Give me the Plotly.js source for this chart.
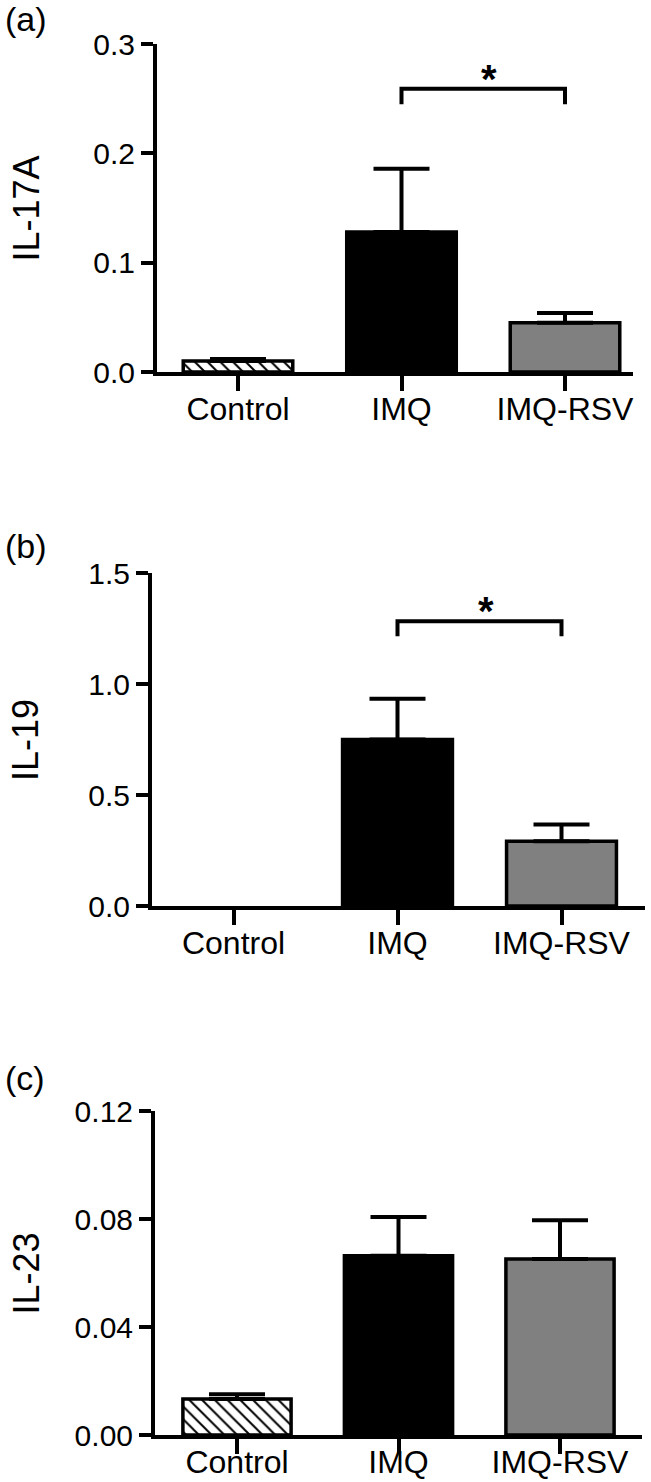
<!DOCTYPE html>
<html>
<head>
<meta charset="utf-8">
<script src="https://cdn.plot.ly/plotly-3.0.1.min.js"></script>
<style>
  html, body { margin: 0; padding: 0; background: #ffffff; }
  #chart { width: 651px; height: 1482px; }
</style>
</head>
<body>
<div id="chart"></div>
<script>
// ---------------- data ----------------
const categories = ['Control', 'IMQ', 'IMQ-RSV'];

const il17aMean = [0.010, 0.128, 0.045];
const il17aErr  = [0.002, 0.058, 0.009];

const il19Mean  = [null, 0.750, 0.292];
const il19Err   = [null, 0.183, 0.075];

const il23Mean  = [0.0133, 0.0664, 0.0652];
const il23Err   = [0.0018, 0.0143, 0.0143];

const il17aTickVals = [0, 0.1, 0.2, 0.3];
const il17aTickText = ['0.0', '0.1', '0.2', '0.3'];
const il19TickVals  = [0, 0.5, 1.0, 1.5];
const il19TickText  = ['0.0', '0.5', '1.0', '1.5'];
const il23TickVals  = [0, 0.04, 0.08, 0.12];
const il23TickText  = ['0.00', '0.04', '0.08', '0.12'];

const yTitles = ['IL-17A', 'IL-19', 'IL-23'];
const panelLetters = ['(a)', '(b)', '(c)'];

// significance brackets
const sigPanel  = [0, 1];
const sigFrom   = ['IMQ', 'IMQ'];
const sigTo     = ['IMQ-RSV', 'IMQ-RSV'];
const sigTop    = [0.259, 1.283];
const sigBottom = [0.245, 1.215];
const sigLabel  = ['*', '*'];

// ---------------- styles ----------------
const barFill    = ['#ffffff', '#000000', '#808080'];
const barPattern = ['\\', '', ''];

// ---------------- layout geometry (pixels) ----------------
const W = 651, H = 1482;
const geom = [
  {top: 44,   bottom: 372,  left: 157, right: 633, c0: 238,   unit: 163.5, yMax: 0.3,  letterY: 19,   labelX: 25.5, xStand: -9},
  {top: 573,  bottom: 906,  left: 152, right: 645, c0: 233.5, unit: 164,   yMax: 1.5,  letterY: 546,  labelX: 25.5, xStand: -9},
  {top: 1111, bottom: 1435, left: 155, right: 642, c0: 237,   unit: 161.5, yMax: 0.12, letterY: 1078, labelX: 25.5, xStand: -19}
];

const means = [il17aMean, il19Mean, il23Mean];
const errs  = [il17aErr, il19Err, il23Err];
const tickVals = [il17aTickVals, il19TickVals, il23TickVals];
const tickText = [il17aTickText, il19TickText, il23TickText];

const FONT = 'Liberation Sans, Arial, sans-serif';

const traces = [];
const layout = {
  width: W, height: H,
  margin: {l: 0, r: 0, t: 0, b: 0, pad: 0},
  paper_bgcolor: '#ffffff',
  plot_bgcolor: 'rgba(0,0,0,0)',
  showlegend: false,
  barmode: 'overlay',
  font: {family: FONT, color: '#000000'},
  annotations: []
};

geom.forEach((g, i) => {
  const xa = 'xaxis' + (i === 0 ? '' : (i + 1));
  const ya = 'yaxis' + (i === 0 ? '' : (i + 1));
  const xr = 'x' + (i === 0 ? '' : (i + 1));
  const yr = 'y' + (i === 0 ? '' : (i + 1));

  categories.forEach((cat, j) => {
    const marker = {
      color: barFill[j],
      line: {color: '#000000', width: 3.5}
    };
    if (barPattern[j]) {
      marker.pattern = {
        shape: barPattern[j],
        fgcolor: '#000000',
        bgcolor: '#ffffff',
        size: 9,
        solidity: 0.22
      };
    }
    traces.push({
      type: 'bar',
      x: [cat],
      y: [means[i][j]],
      xaxis: xr, yaxis: yr,
      width: 0.67,
      marker: marker,
      error_y: {
        type: 'data',
        symmetric: false,
        array: [errs[i][j]],
        arrayminus: [0],
        color: '#000000',
        thickness: 4,
        width: 28
      },
      hoverinfo: 'skip'
    });
  });

  layout[xa] = {
    domain: [g.left / W, g.right / W],
    anchor: yr,
    type: 'category',
    categoryorder: 'array',
    categoryarray: categories,
    range: [(g.left - g.c0) / g.unit, (g.right - g.c0) / g.unit],
    showline: true, linecolor: '#000000', linewidth: 4,
    ticks: 'outside', ticklen: 15, tickwidth: 4, tickcolor: '#000000',
    ticklabelstandoff: g.xStand,
    showgrid: false, zeroline: false,
    tickfont: {family: FONT, size: 32, color: '#000000'},
    fixedrange: true
  };
  layout[ya] = {
    domain: [1 - g.bottom / H, 1 - g.top / H],
    anchor: xr,
    range: [0, g.yMax],
    tickvals: tickVals[i],
    ticktext: tickText[i],
    showline: true, linecolor: '#000000', linewidth: 4,
    ticks: 'outside', ticklen: 12, tickwidth: 4, tickcolor: '#000000',
    showgrid: false, zeroline: false,
    tickfont: {family: FONT, size: 30, color: '#000000'},
    fixedrange: true
  };

  layout.annotations.push({
    xref: 'paper', yref: 'paper',
    x: g.labelX / W, y: 1 - ((g.top + g.bottom) / 2) / H,
    xanchor: 'center', yanchor: 'middle',
    text: yTitles[i], textangle: -90, showarrow: false,
    font: {family: FONT, size: 36, color: '#000000'}
  });
  layout.annotations.push({
    xref: 'paper', yref: 'paper',
    x: 3 / W, y: 1 - g.letterY / H,
    xanchor: 'left', yanchor: 'middle',
    text: panelLetters[i], showarrow: false,
    font: {family: FONT, size: 34, color: '#000000'}
  });
});

sigPanel.forEach((p, k) => {
  const xr = 'x' + (p === 0 ? '' : (p + 1));
  const yr = 'y' + (p === 0 ? '' : (p + 1));
  traces.push({
    type: 'scatter', mode: 'lines',
    x: [sigFrom[k], sigFrom[k], sigTo[k], sigTo[k]],
    y: [sigBottom[k], sigTop[k], sigTop[k], sigBottom[k]],
    xaxis: xr, yaxis: yr,
    line: {color: '#000000', width: 4},
    hoverinfo: 'skip', cliponaxis: false
  });
  const iA = categories.indexOf(sigFrom[k]);
  const iB = categories.indexOf(sigTo[k]);
  layout.annotations.push({
    xref: xr, yref: yr,
    x: (iA + iB) / 2, y: sigTop[k],
    xanchor: 'center', yanchor: 'middle',
    yshift: 10, xshift: 6,
    text: '<b>' + sigLabel[k] + '</b>', showarrow: false,
    font: {family: FONT, size: 40, color: '#000000'}
  });
});

Plotly.newPlot('chart', traces, layout, {displayModeBar: false});
</script>
</body>
</html>
